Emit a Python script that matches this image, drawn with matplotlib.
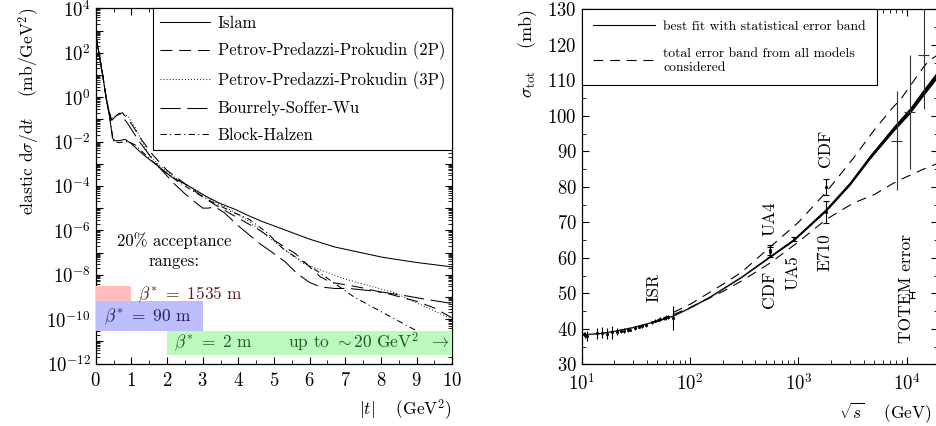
import numpy as np
import matplotlib
matplotlib.use('Agg')
import matplotlib.pyplot as plt
from matplotlib.ticker import LogLocator, FuncFormatter, MultipleLocator, NullFormatter
from matplotlib.patches import Rectangle

plt.rcParams.update({
    'font.family': 'serif',
    'font.serif': ['cmr10', 'DejaVu Serif'],
    'mathtext.fontset': 'cm',
    'axes.unicode_minus': False,
    'axes.formatter.use_mathtext': True,
    'lines.scale_dashes': False,
    'axes.linewidth': 0.9,
    'xtick.direction': 'in', 'ytick.direction': 'in',
    'xtick.top': True, 'ytick.right': True,
    'xtick.major.size': 5, 'ytick.major.size': 5,
    'xtick.minor.size': 2.8, 'ytick.minor.size': 2.8,
    'xtick.major.width': 0.8, 'ytick.major.width': 0.8,
    'xtick.minor.width': 0.6, 'ytick.minor.width': 0.6,
})

# ---------------- left panel data: log10(dsigma/dt) vs |t| ----------------
islam_t = [0, 0.1, 0.2, 0.3, 0.4, 0.47, 0.55, 0.7, 0.82, 1.0, 1.2, 1.42, 1.7, 2.13, 2.55, 3.07,
           3.5, 3.9, 4.3, 4.66, 5.0, 5.5, 6.0, 6.7, 7.42, 8.0, 8.5, 9.0, 9.5, 10.0]
islam_log = [2.85, 1.9, 0.95, -0.1, -1.0, -1.85, -1.97, -1.95, -1.9, -2.1, -2.4, -2.7, -3.05, -3.6,
             -3.95, -4.45, -4.8, -5.05, -5.35, -5.6, -5.8, -6.1, -6.4, -6.75, -7.0, -7.2, -7.33,
             -7.45, -7.55, -7.65]

ppp2_t = [0, 0.1, 0.2, 0.3, 0.42, 0.55, 0.75, 1.0, 1.3, 1.6, 2.0, 2.5, 3.0, 3.5, 4.0, 4.6, 5.1,
          5.6, 5.9, 6.3, 6.6, 7.0, 7.5, 8.3, 9.0, 9.5, 10.0]
ppp2_log = [2.85, 1.9, 0.95, -0.1, -1.0, -0.85, -0.7, -1.2, -1.95, -2.6, -3.3, -3.9, -4.5, -5.0,
            -5.45, -6.0, -6.55, -7.05, -7.5, -8.1, -8.35, -8.45, -8.6, -8.9, -9.2, -9.5, -9.95]

ppp3_t = [0, 0.1, 0.2, 0.3, 0.42, 0.55, 0.7, 0.9, 1.1, 1.3, 1.5, 1.8, 2.2, 2.7, 3.2, 3.8, 4.3,
          4.61, 5.2, 5.83, 7.0, 8.36, 10.0]
ppp3_log = [2.85, 1.9, 0.95, -0.1, -1.0, -0.85, -0.75, -0.85, -1.35, -2.0, -2.6, -3.1, -3.6, -4.1,
            -4.6, -5.1, -5.6, -6.0, -6.75, -7.5, -8.2, -8.8, -10.0]

bsw_t = [0, 0.1, 0.2, 0.3, 0.45, 0.6, 0.68, 0.9, 1.2, 1.5, 1.8, 2.2, 2.5, 2.8, 3.0, 3.15, 3.35,
         3.6, 4.0, 4.6, 5.0, 5.3, 5.65, 6.0, 6.3, 6.7, 7.1, 7.7, 8.1, 8.7, 9.3, 10.0]
bsw_log = [2.85, 1.9, 0.95, -0.1, -1.05, -0.8, -0.72, -1.2, -1.95, -2.6, -3.2, -3.9, -4.35, -4.75,
           -5.0, -5.0, -4.95, -5.2, -5.8, -6.6, -7.05, -7.4, -7.95, -8.35, -8.55, -8.62, -8.62,
           -8.72, -8.8, -8.95, -9.12, -9.3]

bh_t = [0, 0.1, 0.2, 0.3, 0.4, 0.5, 0.65, 0.9, 1.1, 1.4, 1.8, 2.3, 2.8, 3.3, 3.8, 4.3, 4.8, 5.3,
        6.0, 7.24, 8.45, 10.0]
bh_log = [2.85, 1.9, 0.95, -0.1, -1.0, -2.0, -2.05, -2.0, -2.15, -2.6, -3.2, -3.8, -4.3, -4.75,
          -5.15, -5.5, -6.1, -6.9, -7.6, -9.0, -10.05, -11.4]

model_names = ['Islam', 'Petrov-Predazzi-Prokudin (2P)', 'Petrov-Predazzi-Prokudin (3P)',
               'Bourrely-Soffer-Wu', 'Block-Halzen']

# acceptance ranges (t_min, t_max, log10 low, log10 high)
acc_1535 = [0.0, 1.0, -9.2, -8.5]
acc_90 = [0.0, 3.0, -10.55, -9.2]
acc_2 = [2.0, 10.0, -11.6, -10.55]

# ---------------- right panel data ----------------
fit_sqrt_s = [10, 15, 20, 30, 50, 70, 100, 150, 200, 300, 546, 900, 1800, 3000, 4600, 7600,
              10700, 14000, 19500]
fit_sigma = [38.3, 38.7, 39.3, 40.4, 42.2, 43.6, 45.9, 48.8, 51.2, 54.6, 60.3, 65.0, 73.5, 81.0,
             88.5, 96.5, 101.5, 106.3, 112.0]
fit_stat = [0.05, 0.05, 0.05, 0.05, 0.05, 0.05, 0.06, 0.08, 0.1, 0.12, 0.2, 0.28, 0.4, 0.5, 0.6,
            0.75, 0.85, 0.95, 1.0]

band_sqrt_s = [70, 100, 200, 300, 546, 1000, 1800, 3200, 5000, 7500, 8700, 14300, 16000, 20000]
band_upper = [44.6, 46.9, 52.5, 56.0, 63.0, 70.0, 78.5, 88.0, 96.0, 102.5, 104.5, 113.8, 115.5, 117.5]
band_lower = [44.0, 46.0, 50.5, 53.5, 58.5, 64.5, 70.8, 75.4, 77.8, 81.0, 82.0, 85.0, 85.6, 86.8]

low_sqrt_s = [10.5, 10.8, 11.1, 13.7, 15.3, 17.0, 18.9, 21.0, 23.0, 24.5, 26.5, 28.0, 31.0, 33.5,
              36.0, 39.0, 44.5, 47.0, 51.0, 53.0, 57.0, 60.0, 63.0, 69.5]
low_sigma = [38.6, 38.3, 38.0, 38.7, 38.9, 38.6, 39.0, 39.2, 39.4, 39.5, 39.6, 39.8, 40.3, 40.6,
             40.8, 41.0, 41.8, 42.3, 42.5, 42.8, 43.0, 43.2, 43.4, 43.0]
low_err = [0.6, 0.8, 1.5, 1.6, 1.5, 1.6, 1.8, 1.0, 0.6, 0.7, 0.6, 0.5, 0.5, 0.4, 0.5, 0.4, 0.4,
           0.5, 0.4, 0.5, 0.4, 0.6, 0.5, 3.3]

hi_sqrt_s = [546, 546, 900, 1800, 1800]
hi_sigma = [61.7, 62.2, 65.3, 72.8, 80.0]
hi_err = [1.4, 1.5, 0.7, 3.1, 2.3]

cosmic_sqrt_s = [8100, 10700, 14400]
cosmic_sigma = [93.0, 101.0, 117.0]
cosmic_err = [14.0, 16.0, 15.0]

exp_labels = ['ISR', 'CDF', 'UA4', 'UA5', 'E710', 'CDF', 'TOTEM error']
exp_label_x = [46, 540, 540, 880, 1760, 1760, 9800]
exp_label_y = [47.5, 46.0, 66.0, 51.0, 67.0, 85.7, 36.0]
exp_label_va = ['bottom', 'bottom', 'bottom', 'bottom', 'top', 'bottom', 'bottom']

# ---------------- figure ----------------
W, H = 937, 426
fig = plt.figure(figsize=(W / 100, H / 100), dpi=100)

axL = fig.add_axes([95.7 / W, 1 - 363.5 / H, (452.3 - 95.7) / W, (363.5 - 8.3) / H])
axR = fig.add_axes([581.7 / W, 1 - 364.3 / H, (938.5 - 581.7) / W, (364.3 - 9.3) / H])

lw = 0.75
styles = [
    dict(ls='-'),
    dict(ls=(0, (8.5, 5.0))),
    dict(ls=(0, (0.6, 1.6))),
    dict(ls=(0, (14.5, 4.8))),
    dict(ls=(0, (4.5, 2.4, 0.8, 2.4))),
]
series = [(islam_t, islam_log), (ppp2_t, ppp2_log), (ppp3_t, ppp3_log), (bsw_t, bsw_log), (bh_t, bh_log)]
for (tt, lg), st, name in zip(series, styles, model_names):
    axL.plot(tt, 10.0 ** np.array(lg), color='black', lw=lw, label=name, zorder=2, **st)

axL.set_yscale('log')
axL.set_xlim(0, 10)
axL.set_ylim(1e-12, 1e4)

for rng, col in [(acc_1535, '#ffbdbd'), (acc_90, '#bdbdfb'), (acc_2, '#bdf8bd')]:
    axL.add_patch(Rectangle((rng[0], 10 ** rng[2]), rng[1] - rng[0], 10 ** rng[3] - 10 ** rng[2],
                            facecolor=col, edgecolor='none', zorder=3))

tfs = 12.5
axL.text(2.2, 10 ** -6.45, '20% acceptance', ha='center', va='center', fontsize=12, zorder=5)
axL.text(2.2, 10 ** -7.4, 'ranges:', ha='center', va='center', fontsize=12, zorder=5)
axL.text(1.18, 10 ** -8.9, r'$\beta^{*}\ =\ 1535\ \mathrm{m}$', color='#5c1f1f', fontsize=tfs,
         ha='left', va='center', zorder=5)
axL.text(0.22, 10 ** -9.9, r'$\beta^{*}\ =\ 90\ \mathrm{m}$', color='#1f1f66', fontsize=tfs,
         ha='left', va='center', zorder=5)
axL.text(2.2, 10 ** -11.05, r'$\beta^{*}\ =\ 2\ \mathrm{m}$', color='#1f5a1f', fontsize=tfs,
         ha='left', va='center', zorder=5)
axL.text(9.93, 10 ** -11.05, r'up to $\sim 20\ \mathrm{GeV}^2\ \ \rightarrow$', color='#1f5a1f',
         fontsize=tfs, ha='right', va='center', zorder=5)

axL.yaxis.set_major_locator(LogLocator(base=10, numticks=40))
axL.yaxis.set_minor_locator(LogLocator(base=10, subs=np.arange(2, 10), numticks=200))
axL.yaxis.set_minor_formatter(NullFormatter())


def even_fmt(v, pos):
    e = int(round(np.log10(v)))
    return r'$10^{%d}$' % e if e % 2 == 0 else ''


axL.yaxis.set_major_formatter(FuncFormatter(even_fmt))
axL.xaxis.set_major_locator(MultipleLocator(1))
axL.xaxis.set_minor_locator(MultipleLocator(0.5))
axL.xaxis.set_major_formatter(FuncFormatter(lambda v, p: r'$%d$' % int(round(v))))
axL.tick_params(labelsize=13.5, which='both')
axL.tick_params(axis='x', pad=6)

axL.set_ylabel(r'elastic $\mathrm{d}\sigma/\mathrm{d}t$ $\quad$(mb/GeV$^2$)', loc='top', fontsize=12.5,
               labelpad=3)
axL.set_xlabel(r'$|t|$ $\quad$(GeV$^2$)', loc='right', fontsize=12.5, labelpad=5)

legL = axL.legend(loc='upper right', bbox_to_anchor=(1.0, 1.0), borderaxespad=0, fontsize=12,
                  frameon=True, fancybox=False, edgecolor='black', framealpha=1, handlelength=3.0,
                  handletextpad=0.5, labelspacing=0.66, borderpad=0.42)
legL.get_frame().set_linewidth(0.8)
legL.set_zorder(6)

# ---------------- right panel ----------------
fs = np.array(fit_sqrt_s, dtype=float)
fsig = np.array(fit_sigma)
fst = np.array(fit_stat)
axR.fill_between(fs, fsig - fst, fsig + fst, color='black', lw=0, zorder=3)
axR.plot(fs, fsig, color='black', lw=0.8, zorder=3, label='best fit with statistical error band')
axR.plot(band_sqrt_s, band_upper, color='black', lw=0.8, ls=(0, (7, 5)), zorder=3,
         label='total error band from all models\nconsidered')
axR.plot(band_sqrt_s, band_lower, color='black', lw=0.8, ls=(0, (7, 5)), zorder=3)

axR.errorbar(low_sqrt_s, low_sigma, yerr=low_err, fmt='.', color='black', ms=2.5, elinewidth=0.8,
             capsize=0, zorder=4)
axR.errorbar(hi_sqrt_s, hi_sigma, yerr=hi_err, fmt='.', color='black', ms=2.5, elinewidth=0.8,
             capsize=2.5, capthick=0.8, zorder=4)
cx = np.array(cosmic_sqrt_s, dtype=float)
axR.errorbar(cx, cosmic_sigma, yerr=cosmic_err, xerr=[cx * 0.12, cx * 0.12], fmt='none',
             ecolor='#333333', elinewidth=0.8, capsize=0, zorder=4)
axR.errorbar([11200], [49.6], yerr=[0.8], fmt='none', ecolor='black', elinewidth=0.8, capsize=2.5,
             capthick=0.8, zorder=4)

for lab, x, y, va in zip(exp_labels, exp_label_x, exp_label_y, exp_label_va):
    axR.text(x, y, lab, rotation=90, ha='center', va=va, fontsize=12.5, zorder=5)

axR.set_xscale('log')
axR.set_xlim(10, 10 ** 4.292)
axR.set_ylim(30, 130)
axR.yaxis.set_major_locator(MultipleLocator(10))
axR.yaxis.set_minor_locator(MultipleLocator(5))
axR.xaxis.set_major_locator(LogLocator(base=10, numticks=10))
axR.xaxis.set_minor_locator(LogLocator(base=10, subs=np.arange(2, 10), numticks=50))
axR.xaxis.set_minor_formatter(NullFormatter())
axR.xaxis.set_major_formatter(FuncFormatter(lambda v, p: r'$10^{%d}$' % int(round(np.log10(v)))))
axR.yaxis.set_major_formatter(FuncFormatter(lambda v, p: r'$%d$' % int(round(v))))
axR.tick_params(labelsize=13.5, which='both')
axR.tick_params(axis='x', pad=6)
axR.set_ylabel(r'$\sigma_{\mathrm{tot}}$ $\quad$(mb)', loc='top', fontsize=13, labelpad=6)
axR.set_xlabel(r'$\sqrt{s}$ $\quad$(GeV)', fontsize=12.5, ha='right', va='top')
axR.xaxis.set_label_coords(0.982, -0.1)

legR = axR.legend(loc='upper left', bbox_to_anchor=(0.0, 1.0), borderaxespad=0, fontsize=9.8,
                  frameon=True, fancybox=False, edgecolor='black', framealpha=1, handlelength=4.6,
                  handletextpad=0.6, labelspacing=1.1, borderpad=0.8)
legR.get_frame().set_linewidth(0.8)
legR.set_zorder(6)

fig.savefig('out.png', dpi=100)
